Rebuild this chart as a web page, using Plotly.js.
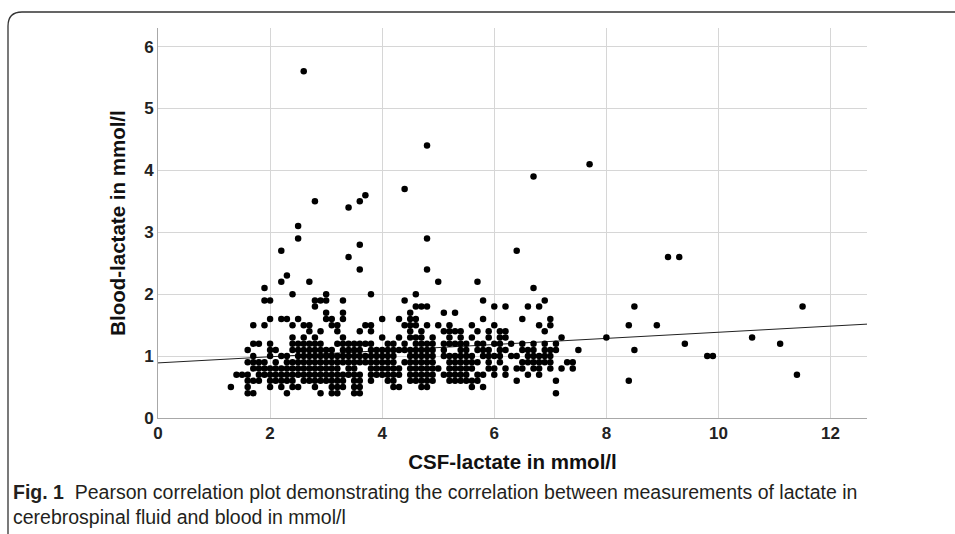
<!DOCTYPE html>
<html>
<head>
<meta charset="utf-8">
<script src="https://cdn.plot.ly/plotly-3.0.1.min.js"></script>
<style>
html,body{margin:0;padding:0;background:#fff;}
#chart{width:955px;height:534px;}
</style>
</head>
<body>
<div id="chart"></div>
<script>
// Blood-lactate levels (mmol/l) and the CSF-lactate values observed at each level
const bloodLevels = [0.4, 0.5, 0.6, 0.7, 0.8, 0.9, 1.0, 1.1, 1.2, 1.3, 1.4, 1.5, 1.6, 1.7, 1.8, 1.9, 2.0, 2.1, 2.2, 2.3];
const csfAtLevel = [
  [1.6,1.7,2.3,2.9,3.1,3.2,3.5,3.6,7.1],
  [1.3,1.6,2.0,2.2,2.4,2.5,2.8,3.1,3.2,3.3,3.5,3.6,4.2,4.3,4.7,4.8,5.6,5.8],
  [1.6,1.7,1.8,2.0,2.1,2.2,2.3,2.4,2.6,2.7,2.8,2.9,3.0,3.1,3.2,3.3,3.5,3.6,3.8,4.1,4.2,4.5,4.6,4.7,4.8,4.9,5.2,5.3,5.4,5.5,5.6,5.7,6.4,7.1],
  [1.4,1.5,1.6,1.8,1.9,2.0,2.1,2.2,2.3,2.4,2.5,2.6,2.7,2.8,2.9,3.0,3.1,3.2,3.3,3.4,3.5,3.6,3.8,3.9,4.0,4.1,4.2,4.3,4.5,4.6,4.7,4.8,4.9,5.1,5.2,5.3,5.4,5.5,5.7,5.8,6.0,6.2,6.6,6.8],
  [1.7,1.8,1.9,2.0,2.1,2.2,2.3,2.4,2.5,2.6,2.7,2.8,2.9,3.0,3.1,3.2,3.4,3.5,3.8,3.9,4.0,4.1,4.2,4.3,4.5,4.6,4.7,4.8,4.9,5.0,5.2,5.3,5.4,5.5,5.6,5.9,6.0,6.2,6.4,6.5,6.7,6.8,7.0,7.2,7.4],
  [1.6,1.7,1.8,1.9,2.1,2.3,2.4,2.5,2.6,2.7,2.8,2.9,3.0,3.1,3.2,3.3,3.4,3.5,3.6,3.7,3.8,3.9,4.0,4.1,4.2,4.4,4.5,4.6,4.7,4.8,4.9,5.2,5.3,5.4,5.5,5.6,5.7,5.9,6.1,6.5,6.6,6.7,6.8,6.9,7.0,7.3,7.4],
  [1.7,2.0,2.2,2.3,2.5,2.6,2.7,2.8,2.9,3.0,3.1,3.2,3.3,3.4,3.5,3.6,3.7,3.8,3.9,4.0,4.1,4.2,4.5,4.6,4.7,4.8,4.9,5.1,5.2,5.3,5.4,5.5,5.6,5.8,5.9,6.0,6.1,6.3,6.4,6.6,6.7,6.8,6.9,7.0],
  [1.6,2.0,2.1,2.4,2.5,2.6,2.7,2.8,2.9,3.0,3.1,3.3,3.4,3.5,3.6,3.8,3.9,4.0,4.1,4.2,4.3,4.4,4.5,4.6,4.7,4.8,4.9,5.1,5.4,5.5,5.7,5.8,5.9,6.1,6.2,6.5,6.6,6.7,6.9,7.0,7.1,7.5],
  [1.7,1.8,2.0,2.4,2.5,2.6,2.7,2.8,2.9,3.2,3.3,3.4,3.5,3.6,3.7,3.8,4.1,4.2,4.4,4.6,4.7,4.8,4.9,5.1,5.2,5.3,5.4,5.5,5.7,5.8,6.0,6.1,6.3,6.5,6.7,6.9,7.1],
  [2.4,2.6,2.8,3.3,4.0,4.3,4.5,4.6,4.7,4.9,5.2,5.4,5.6,5.9,6.1,6.2,7.2,8.0],
  [2.7,2.9,3.2,3.6,3.8,4.5,4.7,5.1,5.2,5.3,5.4,5.7,5.9,6.1,6.2,6.9],
  [1.7,1.9,2.4,2.6,2.7,3.1,3.2,3.7,3.8,4.4,4.5,4.6,4.8,5.0,5.2,5.6,6.0,6.8,7.0,8.4,8.9],
  [2.0,2.2,2.3,2.5,3.0,3.1,3.3,4.0,4.3,4.5,4.6,5.8,6.5,7.0],
  [3.0,3.3,4.5,5.1,5.3],
  [2.8,4.6,4.7,4.8,6.0,6.2,6.6,6.8,8.5],
  [1.9,2.0,2.8,2.9,3.0,3.3,4.4,5.8,6.9],
  [2.4,3.0,3.8,4.6],
  [1.9,6.7],
  [2.2,2.7,5.0,5.7],
  [2.3]
];
// Scattered high / far points
const outlierCsf   = [2.2,2.5,2.5,2.6,2.8,3.4,3.4,3.6,3.7,3.6,3.6,4.4,4.8,4.8,4.8,6.4,6.7,7.7,9.1,9.3,8.5,8.4,9.4,9.8,9.9,10.6,11.1,11.4,11.5];
const outlierBlood = [2.7,2.9,3.1,5.6,3.5,3.4,2.6,3.5,3.6,2.8,2.4,3.7,4.4,2.9,2.4,2.7,3.9,4.1,2.6,2.6,1.1,0.6,1.2,1.0,1.0,1.3,1.2,0.7,1.8];

// Fit line
const fitIntercept = 0.89;
const fitSlope = 0.0495;
const xTicks = [0, 2, 4, 6, 8, 10, 12];
const yTicks = [0, 1, 2, 3, 4, 5, 6];

const xs = [], ys = [];
bloodLevels.forEach((b, i) => { csfAtLevel[i].forEach(c => { xs.push(c); ys.push(b); }); });
outlierCsf.forEach((c, i) => { xs.push(c); ys.push(outlierBlood[i]); });

const xMax = 12.65;
const fitX = [0, xMax];
const fitY = fitX.map(v => fitIntercept + fitSlope * v);

const tickFont = {family: 'Liberation Sans, Arial, sans-serif', size: 17, color: '#222', weight: 'bold'};
const titleFont = {family: 'Liberation Sans, Arial, sans-serif', size: 20.5, color: '#111', weight: 'bold'};
const capFont = {family: 'Liberation Sans, Arial, sans-serif', size: 19.5, color: '#231f20'};

const traces = [
  {x: fitX, y: fitY, type: 'scatter', mode: 'lines', line: {color: '#222', width: 1}, hoverinfo: 'skip'},
  {x: xs, y: ys, type: 'scatter', mode: 'markers', marker: {color: '#000', size: 6.5}}
];

const L = 158, R = 867, T = 28, B = 418;
const pw = R - L, ph = B - T;
const px = v => (v - L) / pw;
const py = v => (B - v) / ph;

const layout = {
  width: 955, height: 534,
  margin: {l: L, r: 955 - R, t: T, b: 534 - B},
  paper_bgcolor: '#fff', plot_bgcolor: '#fff',
  showlegend: false,
  xaxis: {
    range: [0, xMax], tickvals: xTicks, ticktext: xTicks.map(String),
    showgrid: true, gridcolor: '#d6d6d6', gridwidth: 1,
    showline: true, linecolor: '#a8a8a8', linewidth: 1,
    zeroline: false, ticks: '', tickfont: tickFont,
    title: {text: 'CSF-lactate in mmol/l', font: titleFont, standoff: 12}
  },
  yaxis: {
    range: [0, 6.3], tickvals: yTicks, ticktext: yTicks.map(String),
    showgrid: true, gridcolor: '#d6d6d6', gridwidth: 1,
    showline: true, linecolor: '#a8a8a8', linewidth: 1,
    zeroline: false, ticks: '', tickfont: tickFont,
    title: {text: 'Blood-lactate in mmol/l', font: titleFont, standoff: 12}
  },
  shapes: [{
    type: 'path', xref: 'paper', yref: 'paper',
    path: 'M ' + px(8) + ',' + py(540) + ' L ' + px(8) + ',' + py(26) +
          ' Q ' + px(8) + ',' + py(12) + ' ' + px(22) + ',' + py(12) +
          ' L ' + px(960) + ',' + py(12),
    line: {color: '#333', width: 1.3}
  }],
  annotations: [
    {xref: 'paper', yref: 'paper', x: px(11), y: py(492), xanchor: 'left', yanchor: 'middle', showarrow: false,
     text: '<b>Fig. 1</b>  Pearson correlation plot demonstrating the correlation between measurements of lactate in',
     font: capFont},
    {xref: 'paper', yref: 'paper', x: px(11), y: py(517), xanchor: 'left', yanchor: 'middle', showarrow: false,
     text: 'cerebrospinal fluid and blood in mmol/l',
     font: capFont}
  ]
};

Plotly.newPlot('chart', traces, layout, {displayModeBar: false, staticPlot: true});
</script>
</body>
</html>
